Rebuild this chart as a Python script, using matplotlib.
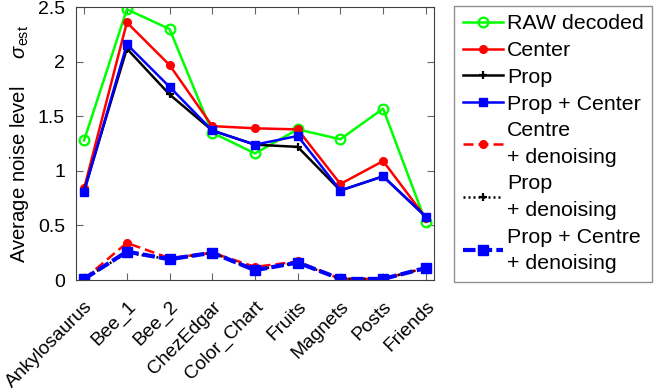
import matplotlib
matplotlib.use("Agg")
import matplotlib.pyplot as plt

plt.rcParams['font.family'] = ['Liberation Sans', 'DejaVu Sans']
plt.rcParams['mathtext.fontset'] = 'custom'
plt.rcParams['mathtext.it'] = 'Liberation Sans:italic'
plt.rcParams['mathtext.rm'] = 'Liberation Sans'

scenes = ['Ankylosaurus', 'Bee_1', 'Bee_2', 'ChezEdgar', 'Color_Chart',
          'Fruits', 'Magnets', 'Posts', 'Friends']

raw = [1.28, 2.48, 2.30, 1.35, 1.16, 1.38, 1.29, 1.57, 0.53]
center = [0.84, 2.36, 1.97, 1.41, 1.39, 1.38, 0.88, 1.09, 0.57]
prop = [0.82, 2.12, 1.70, 1.37, 1.24, 1.22, 0.82, 0.95, 0.58]
prop_center = [0.81, 2.16, 1.77, 1.37, 1.24, 1.32, 0.82, 0.95, 0.58]
centre_dn = [0.01, 0.34, 0.20, 0.25, 0.12, 0.17, 0.01, 0.01, 0.11]
prop_dn = [0.01, 0.25, 0.19, 0.25, 0.09, 0.16, 0.01, 0.01, 0.11]
prop_centre_dn = [0.01, 0.26, 0.19, 0.25, 0.09, 0.16, 0.01, 0.01, 0.11]

x = list(range(1, len(scenes) + 1))

fig = plt.figure(figsize=(6.64, 3.92), dpi=100)
ax = fig.add_axes([0.1145, 0.2857, 0.539, 0.696])

lw = 1.8
ax.plot(x, raw, color=(0, 1, 0), lw=lw, marker='o', ms=7, mfc='none', mew=1.6, label='RAW decoded')
ax.plot(x, center, color=(1, 0, 0), lw=lw, marker='o', ms=5.5, label='Center')
ax.plot(x, prop, color='k', lw=lw, marker='+', ms=6, mew=1.6, label='Prop')
ax.plot(x, prop_center, color=(0, 0, 1), lw=lw, marker='s', ms=6, label='Prop + Center')
ax.plot(x, centre_dn, color=(1, 0, 0), lw=lw, ls=(0, (4, 2)), marker='o', ms=5.5, label='Centre\n+ denoising')
ax.plot(x, prop_dn, color='k', lw=lw, ls=(0, (0.8, 1.2)), marker='+', ms=6, mew=1.6, label='Prop\n+ denoising')
ax.plot(x, prop_centre_dn, color=(0, 0, 1), lw=3.0, ls=(0, (3, 1)), marker='s', ms=7.5, label='Prop + Centre\n+ denoising')

ax.set_xlim(0.81, 9.19)
ax.set_ylim(0, 2.5)
ax.set_xticks(x)
ax.set_xticklabels(scenes, rotation=45, ha='right', va='top', rotation_mode='anchor', fontsize=13.8)
ax.set_yticks([0, 0.5, 1, 1.5, 2, 2.5])
ax.set_yticklabels(['0', '0.5', '1', '1.5', '2', '2.5'], fontsize=14)
ax.tick_params(direction='in', top=True, right=True, length=5, color='0.4')
ax.tick_params(axis='y', pad=8)
ax.tick_params(axis='x', pad=13)
for s in ax.spines.values():
    s.set_color('0.25')
ax.set_ylabel('Average noise level     $\\sigma_{\\mathrm{est}}$', fontsize=14.6, labelpad=5)

leg = fig.legend(loc='upper left', bbox_to_anchor=(0.684, 0.985), fontsize=15.4,
                 frameon=True, fancybox=False, edgecolor='0.45', handlelength=1.87,
                 handletextpad=0.2, borderpad=0.4, labelspacing=0.36, borderaxespad=0)
leg.get_frame().set_linewidth(1.0)
for t in leg.get_texts():
    t.set_linespacing(1.5)

fig.savefig('out.png', dpi=100)
